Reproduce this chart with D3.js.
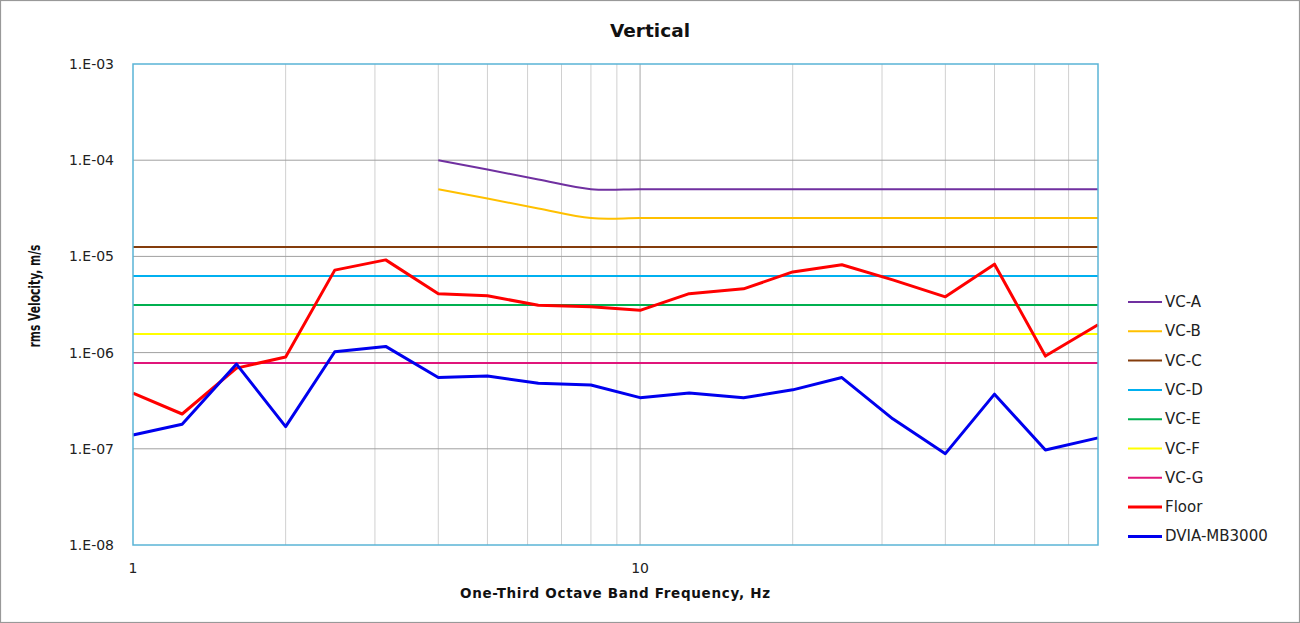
<!DOCTYPE html>
<html><head><meta charset="utf-8">
<script src="https://cdn.jsdelivr.net/npm/d3@7"></script>
<style>
html,body{margin:0;padding:0;background:#fff;}
text{font-family:"DejaVu Sans",sans-serif;}
</style></head>
<body>
<svg id="c" width="1300" height="623"></svg>
<script>
const freqs = [1,1.25,1.6,2,2.5,3.15,4,5,6.3,8,10,12.5,16,20,25,31.5,40,50,63,80];
const vcAFreqs = [4,5,6.3,8,10,12.5,16,20,25,31.5,40,50,63,80];
const vcA = [1e-4,8e-5,6.3e-5,5e-5,5e-5,5e-5,5e-5,5e-5,5e-5,5e-5,5e-5,5e-5,5e-5,5e-5];
const vcB = [5e-5,4e-5,3.15e-5,2.5e-5,2.5e-5,2.5e-5,2.5e-5,2.5e-5,2.5e-5,2.5e-5,2.5e-5,2.5e-5,2.5e-5,2.5e-5];
const vcConstNames = ["VC-C","VC-D","VC-E","VC-F","VC-G"];
const vcConstValues = [1.25e-5,6.25e-6,3.12e-6,1.56e-6,7.8e-7];
const floor = [3.8e-7,2.3e-7,6.9e-7,9e-7,7.2e-6,9.2e-6,4.1e-6,3.9e-6,3.1e-6,3.0e-6,2.75e-6,4.1e-6,4.6e-6,6.9e-6,8.2e-6,5.7e-6,3.8e-6,8.3e-6,9.2e-7,1.95e-6];
const dvia = [1.39e-7,1.8e-7,7.6e-7,1.7e-7,1.02e-6,1.16e-6,5.5e-7,5.7e-7,4.8e-7,4.6e-7,3.4e-7,3.8e-7,3.4e-7,4.1e-7,5.5e-7,2.05e-7,8.9e-8,3.7e-7,9.7e-8,1.3e-7];
const yTicks = [1e-8,1e-7,1e-6,1e-5,1e-4,1e-3];
const yTickLabels = ["1.E-08","1.E-07","1.E-06","1.E-05","1.E-04","1.E-03"];
const xTicks = [1,10];
const legendNames = ["VC-A","VC-B","VC-C","VC-D","VC-E","VC-F","VC-G","Floor","DVIA-MB3000"];
const colors = {"VC-A":"#7030a0","VC-B":"#ffc000","VC-C":"#843c0c","VC-D":"#00b0f0","VC-E":"#00b050","VC-F":"#ffff00","VC-G":"#e0157a","Floor":"#ff0000","DVIA-MB3000":"#0000ee"};

const svg = d3.select("#c");
svg.append("rect").attr("x",0.5).attr("y",0.5).attr("width",1299).attr("height",622)
  .attr("fill","#fff").attr("stroke","#999").attr("stroke-width",1.2);

const L=133, R=1098, T=64, B=545;
const x = d3.scaleLog().domain([1,80]).range([L,R]);
const y = d3.scaleLog().domain([1e-8,1e-3]).range([B,T]);

// vertical gridlines
const minor = [];
for (let d of [1,10]) for (let k=2;k<=9;k++){ const v=d*k; if (v<80) minor.push(v); }
svg.append("g").selectAll("line").data(minor).join("line")
  .attr("x1",d=>x(d)).attr("x2",d=>x(d)).attr("y1",T).attr("y2",B)
  .attr("stroke","#d0d0d0").attr("stroke-width",1);
svg.append("line").attr("x1",x(10)).attr("x2",x(10)).attr("y1",T).attr("y2",B)
  .attr("stroke","#a6a6a6").attr("stroke-width",1);
// horizontal gridlines
svg.append("g").selectAll("line").data(yTicks.slice(1,-1)).join("line")
  .attr("x1",L).attr("x2",R).attr("y1",d=>y(d)).attr("y2",d=>y(d))
  .attr("stroke","#a0a0a0").attr("stroke-width",1);

const line = d3.line().x(d=>x(d[0])).y(d=>y(d[1]));
const smooth = d3.line().x(d=>x(d[0])).y(d=>y(d[1])).curve(d3.curveCatmullRom.alpha(0.5));

// constant VC lines
vcConstNames.forEach((n,i)=>{
  svg.append("path").attr("d",line([[1,vcConstValues[i]],[80,vcConstValues[i]]]))
    .attr("fill","none").attr("stroke",colors[n]).attr("stroke-width",2);
});
svg.append("path").attr("d",smooth(vcAFreqs.map((f,i)=>[f,vcA[i]])))
  .attr("fill","none").attr("stroke",colors["VC-A"]).attr("stroke-width",2);
svg.append("path").attr("d",smooth(vcAFreqs.map((f,i)=>[f,vcB[i]])))
  .attr("fill","none").attr("stroke",colors["VC-B"]).attr("stroke-width",2);
svg.append("path").attr("d",line(freqs.map((f,i)=>[f,floor[i]])))
  .attr("fill","none").attr("stroke",colors["Floor"]).attr("stroke-width",3).attr("stroke-linejoin","round");
svg.append("path").attr("d",line(freqs.map((f,i)=>[f,dvia[i]])))
  .attr("fill","none").attr("stroke",colors["DVIA-MB3000"]).attr("stroke-width",3).attr("stroke-linejoin","round");

// plot border
svg.append("rect").attr("x",L).attr("y",T).attr("width",R-L).attr("height",B-T)
  .attr("fill","none").attr("stroke","#5ab4d6").attr("stroke-width",1.5);

// axes labels
svg.append("g").selectAll("text").data(yTicks).join("text")
  .attr("x",L-19).attr("y",d=>y(d)+5).attr("text-anchor","end")
  .attr("font-size",14).attr("fill","#222").text((d,i)=>yTickLabels[i]);
svg.append("g").selectAll("text").data(xTicks).join("text")
  .attr("x",d=>x(d)).attr("y",573).attr("text-anchor","middle")
  .attr("font-size",14).attr("fill","#222").text(d=>d);

svg.append("text").attr("x",650).attr("y",37).attr("text-anchor","middle")
  .attr("font-size",18.5).attr("font-weight","bold").attr("fill","#111").text("Vertical");
svg.append("text").attr("x",615).attr("y",598).attr("text-anchor","middle")
  .attr("font-size",13.5).attr("font-weight","bold").attr("fill","#111").attr("textLength",310)
  .text("One-Third Octave Band Frequency, Hz");
svg.append("text").attr("transform","translate(40,296) rotate(-90)").attr("text-anchor","middle")
  .attr("font-family","'Liberation Sans Narrow','Liberation Sans',sans-serif")
  .attr("font-size",15).attr("font-weight","bold").attr("fill","#111")
  .attr("textLength",103).attr("lengthAdjust","spacingAndGlyphs").text("rms Velocity, m/s");

// legend
const lg = svg.append("g").selectAll("g").data(legendNames).join("g")
  .attr("transform",(d,i)=>`translate(1128,${302+i*29.3})`);
lg.append("line").attr("x1",0).attr("x2",34).attr("y1",0).attr("y2",0)
  .attr("stroke",d=>colors[d]).attr("stroke-width",(d,i)=>i>=7?3:2);
lg.append("text").attr("x",37).attr("y",5).attr("font-size",15).attr("fill","#222").text(d=>d);
</script>
</body></html>
